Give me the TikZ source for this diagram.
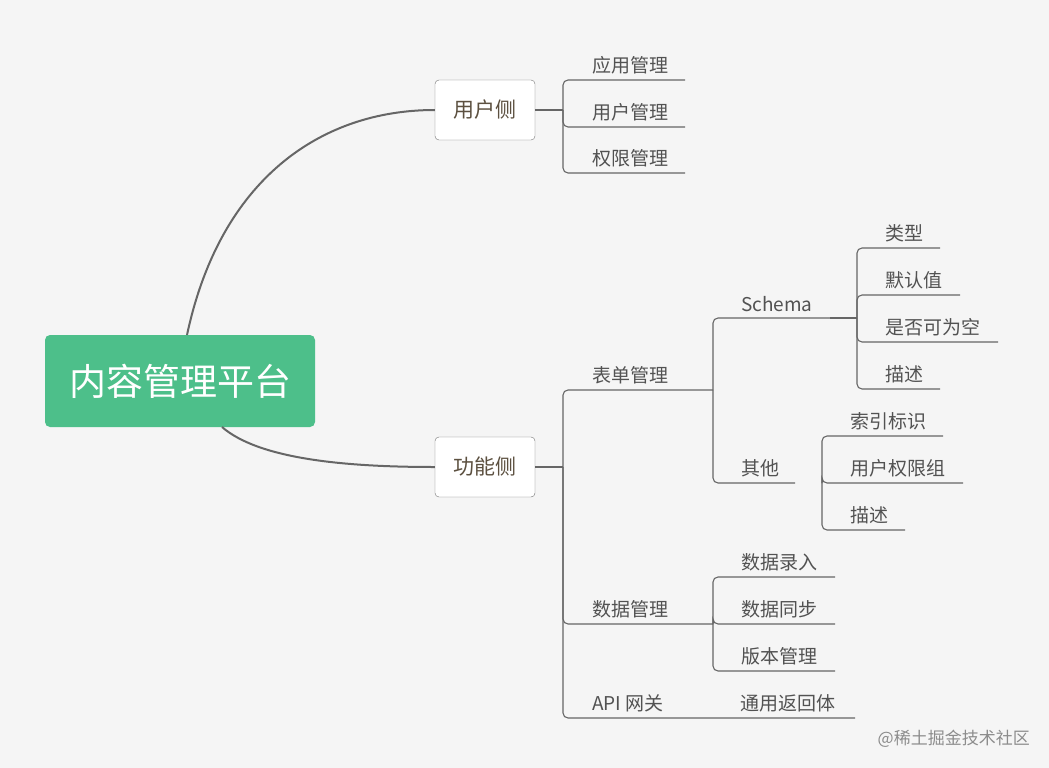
\documentclass[tikz,border=0pt]{standalone}
\usepackage{fontspec}
\setmainfont{Noto Sans CJK SC}
\definecolor{rootg}{HTML}{4DBF8A}
\definecolor{boxt}{HTML}{5C5040}
\begin{document}
\begin{tikzpicture}[x=1pt,y=-1pt,
  ln/.style={draw=black!60,line width=1.1pt,rounded corners=5pt},
  lbl/.style={text=black!68,font=\fontsize{19}{22}\selectfont,anchor=south west,inner sep=0pt,yshift=6pt},
  box/.style={draw=black!55,fill=white,rounded corners=4pt,minimum width=100pt,minimum height=60pt,text=boxt,font=\fontsize{21}{24}\selectfont}]
\fill[black!4] (0,0) rectangle (1049,768);
\useasboundingbox (0,0) rectangle (1049,768);
\node[fill=rootg,rounded corners=5pt,minimum width=270pt,minimum height=92pt,text=white,font=\fontsize{37}{40}\selectfont] (root) at (180,381) {内容管理平台};
\node[box] (u) at (485,110) {用户侧};
\node[box] (f) at (485,467) {功能侧};
\draw[black!60,line width=2pt] (187,335) .. controls (220,180) and (320,110) .. (u.west);
\draw[black!60,line width=2pt] (222,427) .. controls (260,460) and (350,467) .. (f.west);
% user side
\draw[ln] (u.east) -- (563,110);
\foreach \y/\t in {80/应用管理,127/用户管理,173/权限管理}{
  \draw[ln] (563,110) |- (685,\y);
  \node[lbl] at (592,\y) {\t};}
% function side
\draw[ln] (f.east) -- (563,467);
\draw[ln] (563,467) |- (713,390); \node[lbl] at (592,390) {表单管理};
\draw[ln] (563,467) |- (713,624); \node[lbl] at (592,624) {数据管理};
\draw[ln] (563,467) |- (855,718); \node[lbl] at (592,718) {API 网关};
\node[lbl] at (740,718) {通用返回体};
% form
\draw[ln] (713,390) |- (830,318); \node[lbl] at (741,318) {Schema};
\draw[ln] (713,390) |- (795,483); \node[lbl] at (741,483) {其他};
\foreach \y/\e/\t in {248/940/类型,295/960/默认值,342/998/是否可为空,389/940/描述}{
  \draw[ln] (857,318) |- (\e,\y); \node[lbl] at (885,\y) {\t};}
\draw[ln] (830,318) -- (857,318);
\foreach \y/\e/\t in {436/943/索引标识,483/963/用户权限组,530/905/描述}{
  \draw[ln] (822,483) |- (\e,\y); \node[lbl] at (850,\y) {\t};}
% data
\foreach \y/\t in {577/数据录入,624/数据同步,671/版本管理}{
  \draw[ln] (713,624) |- (835,\y); \node[lbl] at (741,\y) {\t};}
\node[text=black!45,font=\fontsize{17}{20}\selectfont,anchor=south east,inner sep=0pt] (wm) at (1030,748) {@稀土掘金技术社区};
\end{tikzpicture}
\end{document}
